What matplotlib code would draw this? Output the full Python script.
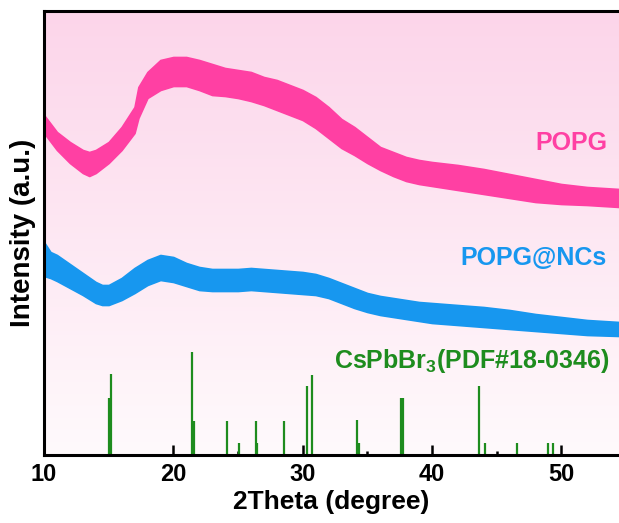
import numpy as np
import matplotlib
matplotlib.use("Agg")
import matplotlib.pyplot as plt
from matplotlib.colors import LinearSegmentedColormap

plt.rcParams['font.family'] = ['Liberation Sans', 'DejaVu Sans']
plt.rcParams['font.weight'] = 'bold'
plt.rcParams['mathtext.fontset'] = 'custom'
plt.rcParams['mathtext.bf'] = 'Liberation Sans:bold'
plt.rcParams['mathtext.rm'] = 'Liberation Sans:bold'

# ---- data (arbitrary intensity units) ----
two_theta = [10.0, 11.0, 12.0, 13.0, 13.5, 14.0, 15.0, 16.0, 17.0, 17.3, 18.0, 19.0,
             20.0, 21.0, 22.0, 23.0, 24.0, 25.0, 26.0, 27.0, 28.0, 29.0, 30.0, 31.0,
             32.0, 33.0, 34.0, 35.0, 36.0, 37.0, 38.0, 39.0, 40.0, 42.0, 44.0, 46.0,
             48.0, 50.0, 52.0, 54.5]
popg_upper = [340, 323, 313, 305, 303, 305, 313, 328, 348, 368, 383, 395,
              398, 398, 395, 391, 387, 385, 383, 378, 375, 370, 365, 358,
              348, 336, 328, 318, 308, 303, 298, 295, 293, 290, 286, 281,
              276, 271, 268, 266]
popg_lower = [322, 305, 292, 282, 279, 282, 292, 305, 322, 337, 357, 365,
              369, 369, 365, 360, 359, 357, 354, 350, 345, 340, 335, 327,
              317, 307, 300, 292, 285, 279, 274, 271, 269, 265, 261, 257,
              253, 251, 250, 248]

nc_theta = [10.0, 10.5, 11.0, 12.0, 13.0, 14.0, 14.5, 15.0, 16.0, 17.0, 18.0, 19.0,
            20.0, 21.0, 22.0, 23.0, 24.0, 25.0, 26.0, 27.0, 28.0, 29.0, 30.0, 31.0,
            32.0, 33.0, 34.0, 35.0, 36.0, 37.0, 38.0, 39.0, 40.0, 42.0, 44.0, 46.0,
            48.0, 50.0, 52.0, 54.5]
nc_upper = [213, 203, 200, 191, 182, 173, 170, 170, 177, 187, 195, 200,
            198, 192, 188, 186, 186, 186, 187, 186, 185, 184, 183, 181,
            177, 172, 167, 162, 159, 157, 155, 153, 152, 150, 148, 145,
            141, 138, 135, 133]
nc_lower = [179, 177, 174, 167, 160, 152, 150, 150, 155, 162, 170, 175,
            173, 169, 165, 164, 164, 164, 165, 164, 163, 162, 161, 160,
            157, 152, 147, 143, 140, 138, 136, 134, 132, 130, 128, 126,
            124, 122, 120, 119]

ref_pos = [15.05, 15.18, 21.47, 21.60, 24.15, 25.10, 26.37, 26.45, 28.59, 30.37,
           30.70, 34.18, 34.39, 37.62, 37.76, 43.67, 44.10, 46.60, 48.95, 49.34]
ref_int = [57, 81, 103, 34, 34, 12, 34, 12, 34, 69,
           80, 35, 12, 57, 57, 69, 12, 12, 12, 12]

# ---- figure ----
fig = plt.figure(figsize=(6.19, 5.23), dpi=100)
ax = fig.add_axes([44/619, 68/523, 1 - 44/619, (455-11)/523])

ax.set_xlim(10, 54.47)
ax.set_ylim(0, 444)

# gradient background
cmap = LinearSegmentedColormap.from_list('bg', ['#fffafc', '#fcd5ea'])
grad = np.linspace(0, 1, 256).reshape(-1, 1)
ax.imshow(grad, aspect='auto', cmap=cmap, origin='lower',
          extent=[0, 1, 0, 1], transform=ax.transAxes, zorder=0)

pink = '#ff40a3'
blue = '#1797ef'
green = '#1e8c1e'

ax.fill_between(two_theta, popg_lower, popg_upper, color=pink, lw=1.2,
                edgecolor=pink, zorder=2)
ax.fill_between(nc_theta, nc_lower, nc_upper, color=blue, lw=1.2,
                edgecolor=blue, zorder=2)
ax.vlines(ref_pos, 0, ref_int, color=green, lw=1.6, zorder=2)

ax.text(0.9165, 312/444, 'POPG', transform=ax.transAxes, color=pink,
        fontsize=18, fontweight='bold', ha='center', va='center')
ax.text(0.852, 197/444, 'POPG@NCs', transform=ax.transAxes, color=blue,
        fontsize=18, fontweight='bold', ha='center', va='center')
ax.text(0.744, 94/444, r'CsPbBr$_\mathbf{3}$(PDF#18-0346)', transform=ax.transAxes,
        color=green, fontsize=18, fontweight='bold', ha='center', va='center')

# axes styling
for s in ['left', 'bottom', 'top']:
    ax.spines[s].set_linewidth(2.2)
ax.spines['right'].set_visible(False)
ax.set_xticks([10, 20, 30, 40, 50])
ax.set_xticks([15, 25, 35, 45], minor=True)
ax.set_yticks([])
ax.tick_params(axis='x', which='major', direction='in', length=7, width=1.8,
               labelsize=17, pad=6)
ax.tick_params(axis='x', which='minor', direction='in', length=3, width=1.8)
for lab in ax.get_xticklabels():
    lab.set_fontweight('bold')

ax.set_xlabel('2Theta (degree)', fontsize=19, fontweight='bold', labelpad=3)
ax.set_ylabel('Intensity (a.u.)', fontsize=20, fontweight='bold', labelpad=6)

fig.savefig('out.png', dpi=100)
